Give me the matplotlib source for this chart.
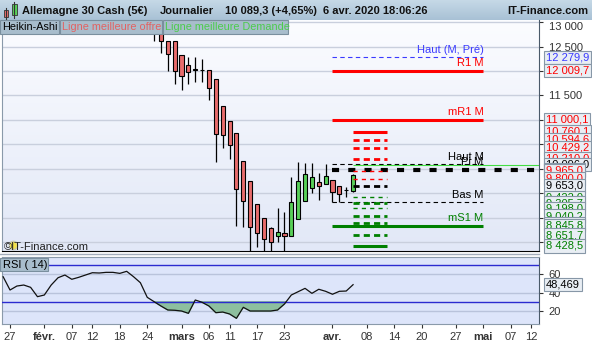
import numpy as np
import matplotlib.pyplot as plt
from matplotlib.patches import Rectangle
from matplotlib.lines import Line2D
from matplotlib.colors import to_rgb
from matplotlib.transforms import blended_transform_factory

plt.rcParams['font.family'] = ['Liberation Sans', 'DejaVu Sans']
plt.rcParams['font.size'] = 8

W, H = 592, 345

# trading-day index: 0 = 27 janv. 2020, 50 = 6 avr. 2020
candle_idx = list(range(21, 51))
ha_open = [13250, 12900, 12606, 12606, 12327, 12116, 12035, 12030, 12014, 11831,
           11280, 10980, 10729, 10157, 9749, 9280, 8994, 8790, 8639, 8688,
           8639, 8986, 9353, 9618, 9729, 9688, 9769, 9647, 9575, 9557]
ha_high = [13300, 12950, 12606, 12606, 12327, 12286, 12286, 12239, 12014, 11831,
           11280, 10980, 10729, 10157, 9749, 9280, 8994, 8810, 9198, 9116,
           9831, 10137, 10116, 10116, 9912, 10096, 9769, 9647, 9627, 9892]
ha_low = [12618, 12373, 12006, 11729, 11612, 11729, 11776, 11776, 11408, 10149,
          10422, 10204, 8837, 8822, 8290, 8414, 8290, 8290, 8504, 8290,
          8639, 8986, 9353, 9516, 9367, 9688, 9316, 9316, 9429, 9524]
ha_close = [12800, 12618, 12341, 12006, 11904, 11973, 12020, 12022, 11659, 10708,
            10694, 10490, 9586, 9341, 8810, 8700, 8578, 8504, 8708, 8627,
            9320, 9749, 9892, 9831, 9647, 9851, 9537, 9496, 9570, 9871]

rsi_idx = list(range(-1, 51))
rsi_values = [57, 42.7, 47, 48.1, 45.6, 35.5, 37.3, 48.1, 56, 58.9,
              54.3, 56.4, 58.9, 61.4, 61.1, 61.8, 61.8, 60.7, 62.9, 57.1,
              50.6, 34.8, 30.1, 25.4, 21.1, 20.8, 20, 17.5, 31.9, 29.4,
              25.4, 18.2, 18.9, 16.8, 12.1, 24, 20, 20, 20, 20,
              21.1, 27.6, 37.3, 40.9, 44.5, 39.1, 43.5, 41.3, 38.1, 41.3,
              41.6, 48.469]

date_ticks = [0, 5, 9, 12, 16, 20, 25, 29, 32, 36, 40, 47, 52, 56, 60, 65, 69, 73, 76]
date_labels = ['27', 'févr.', '07', '12', '18', '24', 'mars', '06', '11', '17', '23',
               'avr.', '08', '14', '20', '27', 'mai', '07', '12']
month_labels = ['févr.', 'mars', 'avr.', 'mai']

# niveaux mensuels (avril)
month_start, month_end = 47, 69
haut_pre = 12279.9
r1 = 12009.7
mr1 = 11000.1
haut_m = 10096.0
pivot = 9982.6
bas_m = 9316.0
ms1 = 8845.8
last_price = 10089.3

# lignes meilleure offre / demande
book_start, book_end = 50, 55
offer_solid = [10760.1]
offer_dashed = [10594.6, 10429.2, 10210.0]
offer_thin = [9965.0, 9800.0]
mid_level = [9653.0]
bid_thin = [9422.0, 9198.0]
bid_dashed = [9305.7, 9040.2, 8890.0, 8651.7]
bid_solid = [8428.5]

RED = '#ff0000'
GREEN = '#008000'
BLUE = '#3a3aff'


def fx(px):
    return px / W


def fy(py):
    return 1 - py / H


def vgrad(top, bottom, n=64):
    t = np.linspace(0, 1, n)[:, None]
    c0, c1 = np.array(to_rgb(top)), np.array(to_rgb(bottom))
    return (c0 * (1 - t) + c1 * t)[:, None, :]


def fr(v, dec=1):
    s = f"{v:,.{dec}f}"
    return s.replace(',', ' ').replace('.', ',')


fig = plt.figure(figsize=(W / 100, H / 100), dpi=100)
fig.patch.set_facecolor('white')

# title bar
ax_top = fig.add_axes([0, fy(20), 1, 20 / H])
ax_top.imshow(vgrad('#c6d9e7', '#a8c1d5'), extent=[0, 1, 0, 1], aspect='auto')
ax_top.axis('off')

# ---- price panel ----
ax = fig.add_axes([fx(2), fy(251), fx(539) - fx(2), (251 - 20) / H])
ax.imshow(vgrad('#fbfcff', '#e2e8f7'), extent=[0, 1, 0, 1], transform=ax.transAxes,
          aspect='auto', zorder=0)

o = np.array(ha_open)
c = np.array(ha_close)
cols = np.where(c >= o, '#58d058', '#e86c6c')
ax.vlines(candle_idx, ha_low, ha_high, colors='black', lw=0.9, zorder=3)
ax.bar(candle_idx, np.abs(c - o), bottom=np.minimum(o, c), width=0.6, color=cols,
       edgecolor='black', linewidth=0.8, zorder=4)

# monthly levels
ax.hlines(haut_pre, month_start, month_end, colors=BLUE, lw=0.8, linestyles=(0, (4, 3)), zorder=5)
ax.hlines([r1, mr1], month_start, month_end, colors=RED, lw=2.2, zorder=5)
ax.hlines([haut_m, bas_m], month_start, month_end, colors='black', lw=0.8,
          linestyles=(0, (4, 3)), zorder=5)
ax.hlines(ms1, month_start, month_end, colors=GREEN, lw=2.2, zorder=5)
ax.hlines(last_price, book_start, 80, colors='#44dd44', lw=0.8, zorder=5)
ax.plot([month_start, 80], [pivot, pivot], color='black', lw=3, ls=(0, (1.7, 2.2)), zorder=6)

# order book ladders
ax.hlines(offer_solid, book_start, book_end, colors=RED, lw=2.2, zorder=6)
ax.hlines(offer_dashed, book_start, book_end, colors=RED, lw=2.0, linestyles=(0, (2.2, 1.5)), zorder=6)
ax.hlines(offer_thin, book_start, book_end, colors=RED, lw=1.0, linestyles=(0, (3, 3)), zorder=6)
ax.hlines(mid_level, book_start, book_end, colors='black', lw=2.0, linestyles=(0, (2.2, 1.5)), zorder=6)
ax.hlines(bid_thin, book_start, book_end, colors=GREEN, lw=1.0, linestyles=(0, (3, 3)), zorder=6)
ax.hlines(bid_dashed, book_start, book_end, colors=GREEN, lw=2.0, linestyles=(0, (2.2, 1.5)), zorder=6)
ax.hlines(bid_solid, book_start, book_end, colors=GREEN, lw=2.2, zorder=6)

# level names
for val, name, col in [(haut_pre, 'Haut (M, Pré)', BLUE), (r1, 'R1 M', RED), (mr1, 'mR1 M', RED),
                       (haut_m, 'Haut M', 'black'), (pivot, 'Pi M', 'black'),
                       (bas_m, 'Bas M', 'black'), (ms1, 'mS1 M', GREEN)]:
    ax.annotate(name, (month_end, val), xytext=(0, 2), textcoords='offset points',
                ha='right', va='bottom', color=col, fontsize=8, zorder=7)

ax.set_xlim(-1.17, 77.1)
ax.set_ylim(8326, 13041)
ax.set_yticks(range(8500, 13001, 500))
ax.set_yticklabels([fr(v, 0) for v in range(8500, 13001, 500)])
ax.yaxis.tick_right()
ax.tick_params(axis='y', length=3, pad=4, colors='#333333', labelsize=8)
ax.tick_params(axis='x', length=0, labelbottom=False)
for lab in ax.get_yticklabels():
    if lab.get_text() == '13 000':
        lab.set_verticalalignment('top')
ax.yaxis.grid(True, color='#c9cfdd', lw=1)
ax.set_axisbelow(True)
ax.spines['top'].set_visible(False)
ax.spines['left'].set_color('#8a9aaa')
ax.spines['right'].set_color('#4a5a6a')
ax.spines['bottom'].set_color('black')

# price labels on the axis
trans = blended_transform_factory(ax.transAxes, ax.transData)
box_levels = ([(haut_pre, BLUE), (r1, RED), (mr1, RED)]
              + [(v, RED) for v in offer_solid + offer_dashed]
              + [(haut_m, 'black'), (pivot, RED)]
              + [(v, RED) for v in offer_thin]
              + [(v, 'black') for v in mid_level]
              + [(v, GREEN) for v in bid_thin + bid_dashed + bid_solid]
              + [(ms1, GREEN)])
box_levels.sort(key=lambda t: -t[0])
for k, (val, col) in enumerate(box_levels):
    ax.text(1.013, val, fr(val), transform=trans, ha='left', va='center', color=col,
            fontsize=8, clip_on=False, zorder=10 + k,
            bbox=dict(boxstyle='square,pad=0.15', fc='#e9eef4', ec='#8797a7', lw=0.8))

# watermark
ax.plot(0.02, 0.025, 'o', transform=ax.transAxes, ms=6, mfc='#f3e24e', mec='#c9c9b0', zorder=7)
ax.text(0.004, -0.006, '©IT-Finance.com', transform=ax.transAxes, fontsize=8,
        color='#222222', va='bottom', ha='left', zorder=8)

# ---- RSI panel ----
ax2 = fig.add_axes([fx(2), fy(324), fx(539) - fx(2), (324 - 257) / H])
ax2.set_facecolor('#dde5fa')
r = np.array(rsi_values)
ax2.fill_between(rsi_idx, r, 30, where=r < 30, interpolate=True, color='#8dbf9f', zorder=2)
ax2.axhline(70, color='#2b2bd0', lw=1, zorder=3)
ax2.axhline(30, color='#2b2bd0', lw=1, zorder=3)
ax2.plot(rsi_idx, r, color='#111111', lw=0.9, zorder=4)
ax2.set_xlim(-1.17, 77.1)
ax2.set_ylim(5.95, 78.4)
ax2.set_yticks([20, 40, 60])
ax2.yaxis.tick_right()
ax2.yaxis.grid(True, color='#b9c3db', lw=1)
ax2.set_axisbelow(True)
ax2.tick_params(axis='y', length=3, pad=4, colors='#333333', labelsize=8)
ax2.set_xticks(date_ticks)
ax2.set_xticklabels(date_labels)
ax2.tick_params(axis='x', length=3, pad=3, colors='#333333', labelsize=8)
for lab in ax2.get_xticklabels():
    if lab.get_text() in month_labels:
        lab.set_fontweight('bold')
for s in ['top', 'left', 'bottom']:
    ax2.spines[s].set_color('#8a9aaa')
ax2.spines['right'].set_color('#4a5a6a')
trans2 = blended_transform_factory(ax2.transAxes, ax2.transData)
ax2.text(1.013, rsi_values[-1], f"{rsi_values[-1]:.3f}".replace('.', ','), transform=trans2,
         ha='left', va='center', fontsize=8, clip_on=False, zorder=10,
         bbox=dict(boxstyle='square,pad=0.15', fc='#e9eef4', ec='#8797a7', lw=0.8))

fig.add_artist(Line2D([0, fx(539)], [fy(254), fy(254)], color='#a3adbb', lw=1))

# ---- header texts and buttons ----
fig.text(fx(22), fy(11), 'Allemagne 30 Cash (5€)', fontsize=8, fontweight='bold',
         va='center', ha='left', color='#111111')
fig.text(fx(160), fy(11), 'Journalier', fontsize=8, fontweight='bold', va='center', color='#111111')
fig.text(fx(225), fy(11), '10 089,3 (+4,65%)', fontsize=8, fontweight='bold', va='center',
         color='#111111')
fig.text(fx(323), fy(11), '6 avr. 2020 18:06:26', fontsize=8, fontweight='bold', va='center',
         color='#111111')
fig.text(fx(588), fy(11), 'IT-Finance.com', fontsize=8, fontweight='bold', va='center',
         ha='right', color='#111111')

# icon
fig.add_artist(Line2D([fx(6), fx(6)], [fy(8), fy(19)], color='#333333', lw=0.8))
fig.add_artist(Rectangle((fx(4), fy(17)), fx(4), 7 / H, fc='#e86c6c', ec='#333333', lw=0.6))
fig.add_artist(Line2D([fx(14), fx(14)], [fy(2), fy(18)], color='#333333', lw=0.8))
fig.add_artist(Rectangle((fx(12), fy(15)), fx(5), 11 / H, fc='#58d058', ec='#333333', lw=0.6))

for x0, x1, label, col in [(0, 59, 'Heikin-Ashi', 'black'),
                           (60, 162, 'Ligne meilleure offre', '#e26262'),
                           (163, 288, 'Ligne meilleure Demande', '#4ccc4c')]:
    fig.add_artist(Rectangle((fx(x0), fy(34)), fx(x1 - x0), 14 / H, fc='#a8bdcc',
                             ec='#7a8f9e', lw=0.8))
    fig.text(fx(x0 + 2), fy(27), label, fontsize=7.8, color=col, va='center', ha='left')

fig.add_artist(Rectangle((fx(0), fy(271)), fx(48), 13 / H, fc='#a8bdcc', ec='#7a8f9e', lw=0.8))
fig.text(fx(3), fy(264.5), 'RSI ( 14)', fontsize=8, color='black', va='center', ha='left')

fig.savefig('out.png', dpi=100)
